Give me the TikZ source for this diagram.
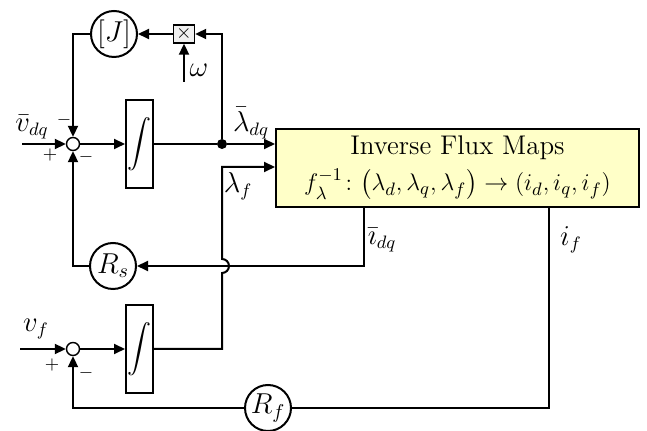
\documentclass[tikz,border=0pt]{standalone}
\usepackage{amsmath,amssymb}
\usetikzlibrary{arrows.meta}
\definecolor{mapfill}{RGB}{255,255,200}
\tikzset{
  sig/.style={line width=1pt, -{Triangle[length=5.5pt,width=5pt]}},
  wire/.style={line width=1pt},
  sumnode/.style={circle, draw, line width=0.7pt, minimum size=6.5pt, inner sep=0pt, fill=white},
  intbox/.style={rectangle, draw, line width=1pt, minimum width=13.5pt, minimum height=44pt, inner sep=0pt, font=\large},
  gain/.style={circle, draw, line width=1pt, minimum size=23pt, inner sep=0pt, font=\Large},
  lbl/.style={font=\fontsize{13.5}{16}\selectfont, inner sep=0pt},
  sgn/.style={font=\small, inner sep=0pt},
}

\begin{document}
\begin{tikzpicture}[x=0.5pt,y=-0.5pt]
\useasboundingbox (0,0) rectangle (647,431);

% Stator (dq) branch
\node[sumnode] (sumdq) at (73,144) {};
\node[intbox] (intdq) at (139.5,144) {$\displaystyle\int$};
\node[circle, fill, inner sep=0pt, minimum size=5pt] (bdq) at (222,144) {};
\node[gain] (jgain) at (114,34) {$[J]$};
\node[rectangle, draw, line width=0.7pt, fill=gray!12, minimum width=10.5pt, minimum height=9pt, inner sep=0pt] (mult) at (184,34) {$\times$};
\node[gain] (rs) at (113,266) {$R_s$};

% Field branch
\node[sumnode] (sumf) at (73,349) {};
\node[intbox] (intf) at (139.5,349) {$\displaystyle\int$};
\node[gain] (rf) at (268,408) {$R_f$};

% Inverse flux maps
\node[rectangle, draw, line width=1pt, fill=mapfill, minimum width=181.5pt, minimum height=39pt, inner ysep=1pt, align=center, font=\fontsize{13.5}{16}\selectfont] (map) at (457.5,168)
  {Inverse Flux Maps\\[2pt] {\fontsize{12.5}{15}\selectfont$f_\lambda^{-1}\colon\bigl(\lambda_d,\lambda_q,\lambda_f\bigr)\rightarrow(i_d,i_q,i_f)$}};

% Free ends
\coordinate (vin) at (22,144);
\coordinate (vfin) at (20,349);
\coordinate (omg) at (184,82);
\coordinate (lfk) at (222,167);
\coordinate (idq) at (364,207);
\coordinate (ifo) at (549,207);

% Connectors
\draw[sig] (vin) -- (sumdq.west);
\draw[sig] (sumdq.east) -- (intdq.west);
\draw[wire] (intdq.east) -- (bdq);
\draw[sig] (bdq) -- (bdq -| map.west);
\draw[sig] (bdq) |- (mult.east);
\draw[sig] (omg) -- (mult.south);
\draw[sig] (mult.west) -- (jgain.east);
\draw[sig] (jgain.west) -| (sumdq.north);
\draw[sig] (idq) |- (rs.east);
\draw[sig] (rs.west) -| (sumdq.south);

\draw[sig] (vfin) -- (sumf.west);
\draw[sig] (sumf.east) -- (intf.west);
\draw[sig] (intf.east) -- (222,349) -- (222,273) arc[start angle=90, end angle=-90, radius=7] -- (lfk) -- (lfk -| map.west);
\draw[wire] (ifo) |- (rf.east);
\draw[sig] (rf.west) -| (sumf.south);

% Labels
\node[lbl] (lvdq) at (32,127) {$\bar v_{dq}$};
\node[sgn] (p1) at (50,155) {$+$};
\node[sgn] (m1) at (64,120) {$-$};
\node[sgn] (m2) at (86,157) {$-$};
\node[lbl] (lom) at (199,70) {$\omega$};
\node[lbl] (lldq) at (251,123) {$\bar\lambda_{dq}$};
\node[lbl] (llf) at (238,186) {$\lambda_f$};
\node[lbl] (lidq) at (382,240) {$\bar\imath_{dq}$};
\node[lbl] (lif) at (571,240) {$i_f$};
\node[lbl] (lvf) at (36,329) {$v_f$};
\node[sgn] (p2) at (52,365) {$+$};
\node[sgn] (m3) at (86,373) {$-$};

\end{tikzpicture}
\end{document}
